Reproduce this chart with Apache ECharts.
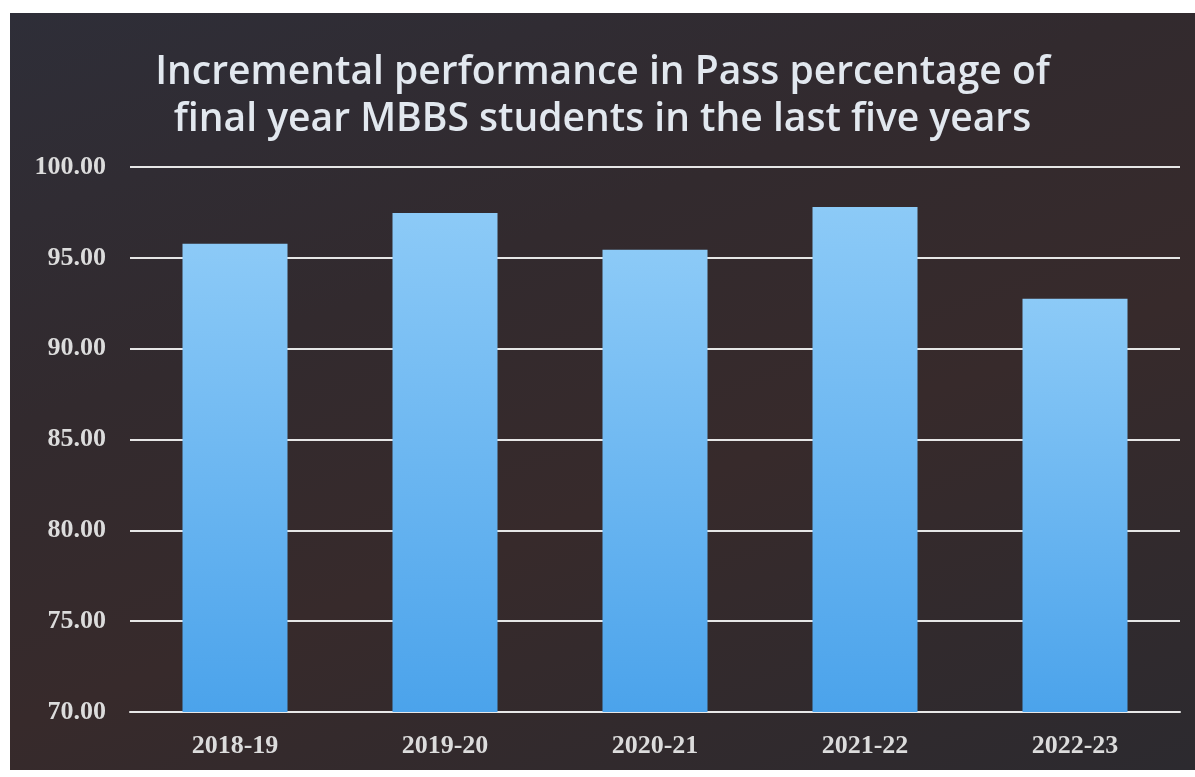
<!DOCTYPE html>
<html>
<head>
<meta charset="utf-8">
<script src="https://cdn.jsdelivr.net/npm/echarts@6/dist/echarts.min.js"></script>
<style>
  html, body { margin: 0; padding: 0; background: #ffffff; }
  #chart {
    position: absolute; left: 10px; top: 13px; width: 1185px; height: 757px;
    background: linear-gradient(160deg, #2e2e38 0%, #322a2e 35%, #372a2b 60%, #2c2a2f 100%);
  }
</style>
</head>
<body>
<div id="chart"></div>
<script>
  // data
  var years = ['2018-19', '2019-20', '2020-21', '2021-22', '2022-23'];
  var passPct = [95.77, 97.47, 95.45, 97.8, 92.75];
  var yMin = 70, yMax = 100, yStep = 5;

  var chart = echarts.init(document.getElementById('chart'));
  var option = {
    backgroundColor: 'transparent',
    title: {
      text: 'Incremental performance in Pass percentage of\nfinal year MBBS students in the last five years',
      left: 'center',
      top: 31,
      textStyle: {
        fontFamily: 'Open Sans',
        fontWeight: 600,
        fontSize: 39,
        lineHeight: 47,
        color: '#e2e8ef'
      }
    },
    grid: { left: 120, right: 15, top: 154, bottom: 58 },
    xAxis: {
      type: 'category',
      data: years,
      axisLine: { show: true, lineStyle: { color: '#e8e8e8', width: 2 } },
      axisTick: { show: false },
      axisLabel: {
        margin: 21,
        fontFamily: 'Liberation Serif',
        fontWeight: 'bold',
        fontSize: 26,
        color: '#dcdcdc'
      }
    },
    yAxis: {
      type: 'value',
      min: yMin,
      max: yMax,
      interval: yStep,
      axisLine: { show: false },
      axisTick: { show: false },
      splitLine: { lineStyle: { color: '#e6e6e6', width: 2 } },
      axisLabel: {
        margin: 24,
        fontFamily: 'Liberation Serif',
        fontWeight: 'bold',
        fontSize: 26,
        color: '#dcdcdc',
        formatter: function (v) { return v.toFixed(2); }
      }
    },
    series: [{
      type: 'bar',
      data: passPct,
      barWidth: '50%',
      itemStyle: {
        color: new echarts.graphic.LinearGradient(0, 0, 0, 1, [
          { offset: 0, color: '#8ccaf7' },
          { offset: 1, color: '#4ba3eb' }
        ])
      }
    }]
  };
  chart.setOption(option);
</script>
</body>
</html>
